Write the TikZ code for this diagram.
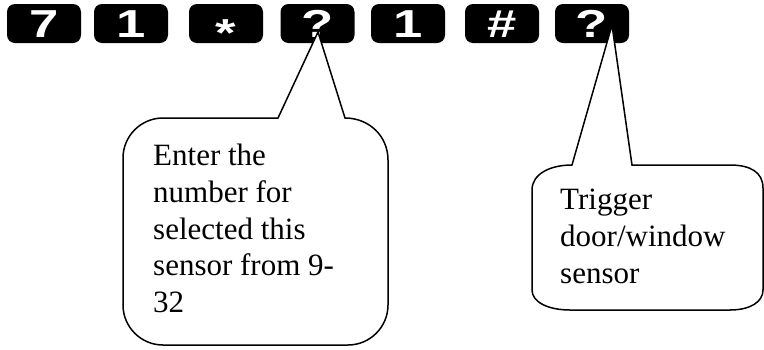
\documentclass[tikz,border=0pt]{standalone}
\usepackage{fontspec}
\usepackage{graphicx}
\setmainfont{Liberation Serif}
\newfontfamily\keyfont{Liberation Sans}
\tikzset{
  keybox/.style={fill=black, rounded corners=8pt, minimum width=74pt, minimum height=39pt,
    inner sep=0pt, text=white, font=\keyfont\fontsize{39}{39}\selectfont\bfseries,
    text height=28pt, text depth=0pt},
  callout/.style={draw=black, fill=white, line width=1.5pt, line join=miter},
  calltext/.style={anchor=north west, inner sep=0pt, align=left,
    font=\fontsize{31}{36.7}\selectfont}
}
\newcommand{\kch}[1]{\scalebox{1.35}[1]{#1}}
\begin{document}
\begin{tikzpicture}[x=1pt,y=-1pt]
\useasboundingbox (0,0) rectangle (764,349);
% keys
\node[keybox] (k1) at (44,23.5) {\kch{7}};
\node[keybox] (k2) at (131,23.5) {\kch{1}};
\node[keybox] (k3) at (226,23.5) {\raisebox{-9pt}{\kch{*}}};
\node[keybox] (k4) at (317.5,23.5) {\kch{?}};
\node[keybox] (k5) at (408,23.5) {\kch{1}};
\node[keybox] (k6) at (502,23.5) {\kch{\#}};
\node[keybox] (k7) at (592,23.5) {\kch{?}};
% pointer tips
\coordinate (t1) at (318,32);
\coordinate (t2) at (612,25);
% callout 1
\draw[callout] (278,118) -- (t1) -- (345,118)
  .. controls (369,118) and (388,136) .. (388,160) -- (388,305)
  .. controls (388,327) and (370,345) .. (348,345) -- (163,345)
  .. controls (141,345) and (123,327) .. (123,305) -- (123,158)
  .. controls (123,136) and (141,118) .. (163,118) -- cycle;
% callout 2
\draw[callout] (572,165) -- (t2) -- (632,165) -- (730,165)
  .. controls (750,165) and (763,172) .. (763,188) -- (763,290)
  .. controls (763,302) and (750,310) .. (730,310) -- (570,310)
  .. controls (548,310) and (532,302) .. (532,290) -- (532,190)
  .. controls (532,174) and (550,165) .. (572,165) -- cycle;
% texts
\node[calltext] (c1) at (153,144) {Enter the\\number for\\selected this\\sensor from 9-\\32};
\node[calltext] (c2) at (560,189) {Trigger\\door/window\\sensor};
\end{tikzpicture}
\end{document}
